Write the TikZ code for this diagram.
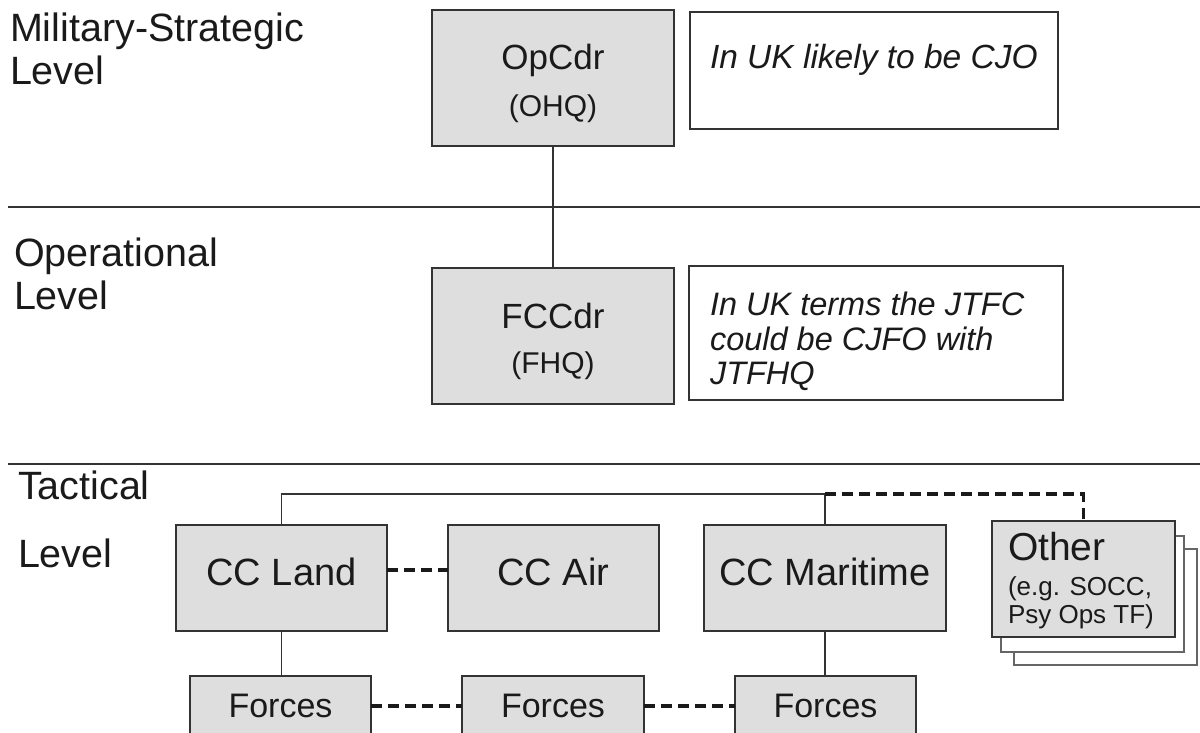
\documentclass[tikz,border=0pt]{standalone}
\usepackage{fontspec}
\setmainfont{Liberation Sans}
\definecolor{boxfill}{HTML}{DEDEDE}
\definecolor{linegray}{HTML}{333333}
\definecolor{ink}{HTML}{1A1A1A}
\newcommand\sz[1]{\fontsize{#1}{#1}\selectfont}
\begin{document}
\begin{tikzpicture}[x=1pt,y=-1pt,
  every node/.style={text=ink,inner sep=0pt,outer sep=0pt},
  graybox/.style={draw=linegray,fill=boxfill,line width=1.6pt,rectangle},
  notebox/.style={draw=linegray,fill=white,line width=1.4pt,rectangle},
  backbox/.style={draw=gray!80!black,fill=white,line width=1.1pt,rectangle},
  link/.style={draw=linegray,line width=1.8pt},
  dlink/.style={draw=ink,line width=3.1pt,dash pattern=on 11pt off 6pt},
  divider/.style={draw=linegray,line width=1.8pt},
  lvl/.style={anchor=base west,font=\sz{39.5}},
  boxtxt/.style={anchor=base,font=\sz{38}},
  subtxt/.style={anchor=base,font=\sz{30}},
  notetxt/.style={anchor=base west,font=\sz{32.5}\itshape}
]
\useasboundingbox (0,0) rectangle (1200,733);

% level dividers
\coordinate (dA0) at (8,207);   \coordinate (dA1) at (1200,207);
\coordinate (dB0) at (8,464);   \coordinate (dB1) at (1200,464);
\draw[divider] (dA0) -- (dA1);
\draw[divider] (dB0) -- (dB1);

% level labels
\node[lvl] (lvlA1) at (10,42)  {Military-Strategic};
\node[lvl] (lvlA2) at (10,85)  {Level};
\node[lvl] (lvlB1) at (14,266) {Operational};
\node[lvl] (lvlB2) at (14,309) {Level};
\node[lvl] (lvlC1) at (18,499) {Tactical};
\node[lvl] (lvlC2) at (18,567) {Level};

% military-strategic level
\node[graybox,minimum width=242pt,minimum height=136pt] (opcdr) at (553,78) {};
\node[boxtxt,font=\sz{35}] (opcdrT) at (553,70) {OpCdr};
\node[subtxt] (opcdrS) at (553,117) {(OHQ)};
\node[notebox,minimum width=368pt,minimum height=117pt] (noteA) at (874,70.5) {};
\node[notetxt,font=\sz{33.5}\itshape] (noteAT) at (710,69) {In UK likely to be CJO};

% operational level
\node[graybox,minimum width=242pt,minimum height=136pt] (fccdr) at (553,336) {};
\node[boxtxt,font=\sz{35}] (fccdrT) at (553,328) {FCCdr};
\node[subtxt] (fccdrS) at (553,373) {(FHQ)};
\node[notebox,minimum width=374pt,minimum height=134pt] (noteB) at (876,333) {};
\node[notetxt] (noteB1) at (710,315) {In UK terms the JTFC};
\node[notetxt] (noteB2) at (710,350) {could be CJFO with};
\node[notetxt] (noteB3) at (710,384) {JTFHQ};

\draw[link] (opcdr.south) -- (fccdr.north);

% tactical level: component commands
\node[graybox,minimum width=211pt,minimum height=106pt] (ccland) at (281.5,578) {};
\node[boxtxt] (cclandT) at (281.5,585) {CC Land};
\node[graybox,minimum width=211pt,minimum height=106pt] (ccair) at (553.5,578) {};
\node[boxtxt] (ccairT) at (553.5,585) {CC Air};
\node[graybox,minimum width=242pt,minimum height=106pt] (ccmar) at (825,578) {};
\node[boxtxt] (ccmarT) at (825,585) {CC Maritime};

% stacked "other" boxes
\node[backbox,minimum width=183pt,minimum height=116pt] (otherC) at (1105.5,607) {};
\node[backbox,minimum width=183pt,minimum height=116pt] (otherB) at (1092.5,594) {};
\node[graybox,minimum width=183pt,minimum height=116pt] (other) at (1083.5,579) {};
\node[anchor=base west,font=\sz{39}] (otherT) at (1008,560) {Other};
\node[anchor=base west,font=\sz{26}] (otherS1) at (1008,595) {(e.g. SOCC,};
\node[anchor=base west,font=\sz{26}] (otherS2) at (1008,623) {Psy Ops TF)};

% forces
\node[graybox,minimum width=181pt,minimum height=60pt] (forA) at (280.5,706) {};
\node[boxtxt,font=\sz{34}] (forAT) at (280.5,717) {Forces};
\node[graybox,minimum width=182pt,minimum height=60pt] (forB) at (553,706) {};
\node[boxtxt,font=\sz{34}] (forBT) at (553,717) {Forces};
\node[graybox,minimum width=181pt,minimum height=60pt] (forC) at (825.5,706) {};
\node[boxtxt,font=\sz{34}] (forCT) at (825.5,717) {Forces};

% command links
\coordinate (bar) at (0,494);
\draw[link] (ccland.north) -- (ccland.north |- bar) -| (ccmar.north);
\draw[dlink] (ccmar.north |- bar) -| (other.north);
\draw[dlink] ([shift={(0,-8)}]ccland.east) -- ([shift={(0,-8)}]ccair.west);
\draw[link] (ccland.south) -- (ccland.south |- forA.north);
\draw[link] (ccmar.south) -- (ccmar.south |- forC.north);
\draw[dlink] (forA.east) -- (forB.west);
\draw[dlink] (forB.east) -- (forC.west);
\end{tikzpicture}
\end{document}
